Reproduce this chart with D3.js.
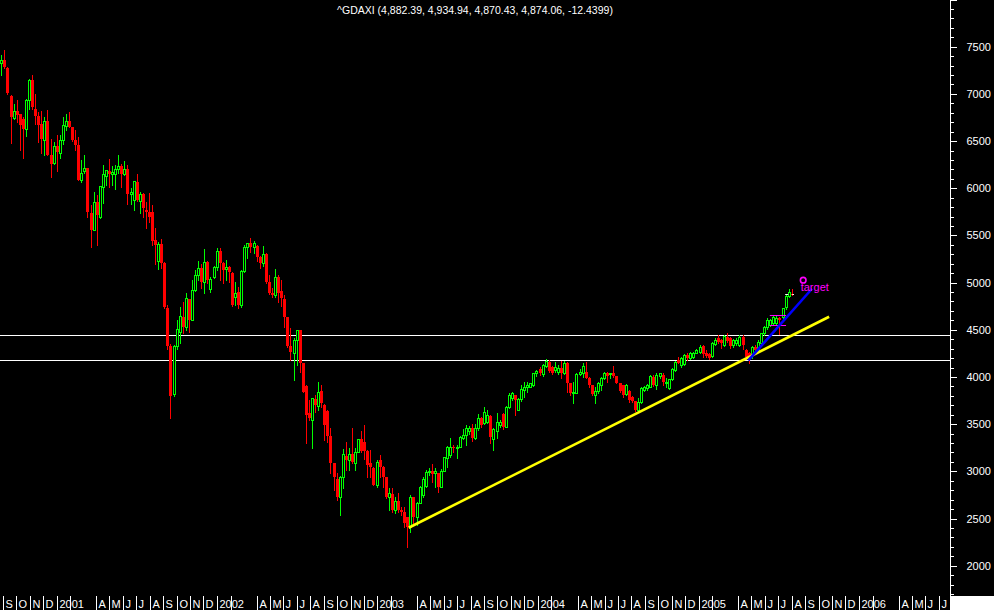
<!DOCTYPE html>
<html>
<head>
<meta charset="utf-8">
<script src="https://cdn.jsdelivr.net/npm/d3@7"></script>
<style>
html,body{margin:0;padding:0;background:#000;}
svg{display:block;font-family:"Liberation Sans",Arial,sans-serif;}
</style>
</head>
<body>
<svg id="chart" width="994" height="610"></svg>
<script>
// ---------------- DATA ----------------
const symbol = "^GDAXI";
const firstWeek = "2000-08-28";       // week of the first candle (weekly bars)
const lastChange = -12.4399;
// weekly [open, high, low, close]
const ohlc2000 = [
 [7329,7410,7198,7364],[7364,7470,7269,7287],[7269,7287,6997,7011],[6976,6986,6481,6757],
 [6746,6898,6739,6817],[6817,6933,6704,6775],[6785,6790,6404,6669],[6739,6760,6316,6633],
 [6633,6945,6552,6940],[6940,7163,6845,7145],[7152,7198,6845,6863],[6845,6997,6686,6764],
 [6764,6810,6492,6669],[6686,6820,6369,6527],[6510,6750,6351,6711],[6711,6827,6351,6351],
 [6351,6520,6122,6262],[6270,6488,6262,6446]
];
const ohlc2001 = [
 [6446,6563,6185,6386],[6375,6563,6316,6510],[6510,6750,6474,6669],[6658,6785,6616,6711],
 [6711,6810,6644,6644],[6644,6650,6505,6510],[6510,6616,6404,6457],[6457,6545,6086,6086],
 [6086,6298,6068,6164],[6185,6351,6157,6213],[6213,6213,5698,5750],[5740,5821,5373,5556],
 [5556,5962,5556,5849],[5849,5927,5397,5715],[5698,6026,5680,6026],[6015,6245,5846,6146],
 [6128,6192,6033,6192],[6181,6305,6015,6150],[6150,6234,6033,6174],[6146,6245,5987,6199],
 [6199,6351,6157,6234],[6234,6262,6015,6146],[6146,6291,6139,6202],[6202,6245,5838,5934],
 [5934,5998,5838,5962],[5874,6075,5768,6075],[6068,6150,5863,5874],[5863,5962,5740,5938],
 [5938,5945,5698,5786],[5768,5856,5574,5750],[5750,5945,5645,5697],[5750,5821,5397,5443],
 [5450,5584,5196,5397],[5232,5433,5140,5408],[5408,5457,5150,5210],[5210,5215,4734,4744],
 [4734,4762,4300,4328],[4328,4350,3561,3798],[3816,4340,3800,4328],[4328,4603,4300,4504],
 [4479,4744,4356,4645],[4631,4797,4462,4532],[4532,4885,4497,4832],[4822,4830,4479,4603],
 [4603,5027,4600,4921],[4921,5133,4915,5080],[5080,5231,5027,5157],[5157,5196,4938,5009],
 [5009,5352,4893,5214],[5214,5231,4999,5027],[4928,5060,4900,5034],[5055,5175,5050,5168]
];
const ohlc2002 = [
 [5168,5362,5133,5337],[5337,5362,5027,5210],[5210,5220,4991,5133],[5140,5238,5027,5168],
 [5168,5180,5009,5115],[5104,5110,4751,4762],[4850,5009,4762,4885],[4903,4956,4726,4762],
 [4762,5133,4744,5125],[5125,5397,5115,5380],[5373,5422,5256,5415],[5415,5478,5327,5373],
 [5373,5440,5316,5415],[5387,5395,5231,5274],[5274,5280,5150,5203],[5203,5387,5175,5302],
 [5302,5310,5000,5009],[5009,5080,4878,4892],[4892,4940,4850,4870],[4867,5140,4850,5055],
 [5055,5080,4797,4885],[4913,5027,4751,4832],[4822,4867,4532,4631],[4631,4640,4320,4330],
 [4330,4514,4179,4260],[4249,4408,3967,4391],[4391,4497,4126,4497],[4497,4500,4055,4144],
 [4144,4150,3843,3843],[3903,3910,3296,3596],[3614,3755,3543,3561],[3543,3780,3243,3773],
 [3763,3808,3631,3702],[3695,3942,3649,3836],[3850,3914,3685,3720],[3702,3710,3332,3490],
 [3639,3649,3314,3374],[3374,3455,2978,3084],[3084,3090,2802,2936],[2915,2978,2696,2731],
 [2724,2950,2537,2943],[2943,3236,2819,3180],[3165,3310,3014,3120],[3120,3243,3014,3180],
 [3180,3459,3091,3102],[3091,3243,3014,3208],[3208,3345,3200,3338],[3338,3427,3200,3218],
 [3310,3490,3127,3218],[3218,3230,2943,3067],[3091,3226,2936,3049],[3038,3045,2850,2855]
];
const ohlc2003 = [
 [2855,3120,2837,3102],[3120,3173,2943,3042],[3049,3060,2837,2936],[2936,2940,2713,2731],
 [2724,2819,2590,2766],[2759,2819,2572,2590],[2590,2731,2555,2689],[2689,2766,2572,2590],
 [2590,2620,2540,2572],[2572,2625,2413,2456],[2512,2520,2201,2413],[2413,2749,2360,2724],
 [2724,2730,2449,2519],[2519,2680,2431,2668],[2668,2844,2660,2837],[2749,2943,2731,2915],
 [2848,3014,2837,2996],[2996,3040,2960,3007],[3007,3077,2890,2971],[2978,3031,2837,3007],
 [2978,2985,2784,2837],[2837,3021,2830,3007],[3007,3155,3000,3148],[3137,3268,3049,3254],
 [3173,3349,3155,3254],[3254,3280,3200,3243],[3243,3278,3137,3261],[3261,3374,3255,3367],
 [3349,3444,3340,3384],[3384,3490,3278,3455],[3430,3480,3400,3455],[3455,3501,3324,3349],
 [3349,3501,3338,3455],[3455,3607,3437,3561],[3561,3575,3470,3490],[3508,3685,3500,3632],
 [3526,3649,3508,3596],[3585,3596,3296,3367],[3338,3460,3226,3444],[3430,3614,3349,3526],
 [3490,3540,3470,3526],[3607,3615,3445,3473],[3473,3692,3465,3685],[3685,3833,3670,3808],
 [3773,3843,3755,3826],[3808,3812,3597,3755],[3650,3773,3645,3762],[3762,3914,3748,3868],
 [3861,3950,3791,3897],[3890,3950,3844,3914],[3897,3940,3890,3932],[3914,4045,3905,4038]
];
const ohlc2004 = [
 [4038,4070,4010,4060],[4080,4101,4020,4038],[4031,4137,4010,4126],[4115,4186,4105,4172],
 [4161,4179,4055,4066],[4108,4115,4030,4038],[4073,4161,4055,4108],[4055,4130,4030,4091],
 [4091,4172,3985,4038],[4038,4172,4031,4151],[4151,4161,3844,3932],[3932,3940,3808,3826],
 [3826,3950,3720,3843],[3833,4038,3825,4027],[4027,4080,4020,4048],[4038,4144,4003,4115],
 [4055,4161,3985,3985],[3992,4000,3897,3914],[3914,3920,3808,3819],[3808,3897,3727,3854],
 [3854,3950,3826,3932],[3914,3996,3861,3985],[3985,4055,3980,4038],[4038,4055,3950,4010],
 [4031,4045,3985,4038],[4038,4115,4003,4010],[4010,4015,3932,3932],[3932,3940,3843,3854],
 [3914,3920,3791,3808],[3819,3925,3808,3914],[3854,3860,3740,3755],[3790,3800,3735,3748],
 [3745,3750,3642,3650],[3650,3773,3642,3738],[3738,3890,3727,3879],[3861,3900,3855,3890],
 [3879,3925,3861,3914],[3897,4020,3890,4010],[4003,4020,3904,3914],[3914,4038,3868,4020],
 [4010,4045,3985,4038],[4020,4038,3914,3950],[3939,3985,3897,3950],[3879,3980,3875,3975],
 [3975,4091,3970,4080],[4073,4172,4065,4161],[4179,4214,4144,4151],[4126,4210,4110,4197],
 [4137,4243,4126,4232],[4232,4250,4179,4197],[4197,4267,4190,4250],[4214,4265,4205,4257]
];
const ohlc2005 = [
 [4257,4292,4250,4285],[4267,4338,4257,4320],[4327,4340,4207,4243],[4257,4285,4207,4222],
 [4243,4250,4186,4197],[4225,4373,4214,4356],[4348,4410,4340,4397],[4408,4443,4355,4373],
 [4390,4400,4302,4355],[4338,4443,4327,4433],[4426,4461,4373,4383],[4408,4420,4302,4327],
 [4338,4400,4320,4391],[4360,4410,4340,4390],[4338,4440,4330,4426],[4426,4450,4300,4340],
 [4285,4300,4190,4207],[4250,4260,4150,4210],[4242,4330,4200,4320],[4320,4340,4260,4285],
 [4285,4390,4270,4373],[4355,4470,4340,4461],[4461,4545,4450,4532],[4525,4620,4510,4602],
 [4550,4615,4540,4602],[4567,4650,4555,4638],[4570,4645,4550,4630],[4630,4640,4460,4600],
 [4638,4735,4625,4726],[4737,4870,4725,4857],[4857,4935,4850,4902],
 [4882.39,4934.94,4870.43,4874.06]
];
// horizontal support / resistance levels
const levels = [4440, 4175];
// trend lines: [date, value] endpoints
const yellowTrend = [["2003-03-13", 2402], ["2005-10-25", 4638]];
const blueTrend   = [["2005-04-24", 4176], ["2005-09-16", 4935]];
// magenta range marks
const magentaMarks = [["2005-06-12","2005-07-19",4655],["2005-06-12","2005-07-19",4549]];
// target annotation
const target = {date:"2005-08-27", value:5026, label:"target"};
// last-price ticks
const lastTicks = [["2005-07-17","2005-07-24",4874],["2005-08-02","2005-08-06",4874]];
// axis labels
const monthLetters = ["J","F","M","A","M","J","J","A","S","O","N","D"];
const yLabels = [2000,2500,3000,3500,4000,4500,5000,5500,6000,6500,7000,7500];

// ---------------- CHART ----------------
const W = 994, H = 610, axisX = 950, axisRowTop = 596;
const parse = d3.utcParse("%Y-%m-%d");
const svg = d3.select("#chart");
svg.append("rect").attr("width",W).attr("height",H).attr("fill","#000");

const x = d3.scaleUtc().domain([Date.UTC(2001,0,1), Date.UTC(2006,0,1)]).range([56.7, 859]);
const y = d3.scaleLinear().domain([2000, 7500]).range([565.7, 46.7]);

const all = [].concat(ohlc2000, ohlc2001, ohlc2002, ohlc2003, ohlc2004, ohlc2005);
const start = parse(firstWeek);
const bars = all.map((d,i)=>({date:d3.utcDay.offset(start, 7*i), o:d[0], h:d[1], l:d[2], c:d[3]}));

const plot = svg.append("g");
plot.append("defs").append("clipPath").attr("id","clip")
  .append("rect").attr("x",0).attr("y",0).attr("width",axisX).attr("height",axisRowTop-2);

// horizontal levels
plot.selectAll("line.level").data(levels).join("line")
  .attr("x1",0).attr("x2",axisX)
  .attr("y1",d=>Math.round(y(d))+0.5).attr("y2",d=>Math.round(y(d))+0.5)
  .attr("stroke","#fff").attr("stroke-width",1).attr("shape-rendering","crispEdges");

// candles
const cg = plot.append("g").attr("clip-path","url(#clip)").attr("shape-rendering","crispEdges");
bars.forEach(b=>{
  const bx = Math.round(x(b.date)) - 1;
  const up = b.c >= b.o;
  const col = up ? "#00ff00" : "#ff0000";
  const t = Math.round(y(Math.max(b.o,b.c))), bt = Math.round(y(Math.min(b.o,b.c)));
  cg.append("line").attr("x1",bx+1.5).attr("x2",bx+1.5)
    .attr("y1",Math.round(y(b.h))).attr("y2",Math.round(y(b.l))+1)
    .attr("stroke",col).attr("stroke-width",1);
  if (up) {
    cg.append("rect").attr("x",bx+0.5).attr("y",t+0.5).attr("width",2).attr("height",Math.max(0,bt-t))
      .attr("fill","#000").attr("stroke",col).attr("stroke-width",1);
  } else {
    cg.append("rect").attr("x",bx).attr("y",t).attr("width",3).attr("height",Math.max(1,bt-t))
      .attr("fill",col);
  }
});

// magenta marks
plot.selectAll("line.mag").data(magentaMarks).join("line")
  .attr("x1",d=>x(parse(d[0]))).attr("x2",d=>x(parse(d[1])))
  .attr("y1",d=>Math.round(y(d[2]))+0.5).attr("y2",d=>Math.round(y(d[2]))+0.5)
  .attr("stroke","#ff00ff").attr("stroke-width",1);

// last price ticks
plot.selectAll("line.lt").data(lastTicks).join("line")
  .attr("x1",d=>x(parse(d[0]))).attr("x2",d=>x(parse(d[1])))
  .attr("y1",d=>Math.round(y(d[2]))+0.5).attr("y2",d=>Math.round(y(d[2]))+0.5)
  .attr("stroke","#fff").attr("stroke-width",1);

// trend lines
const line = d3.line().x(d=>x(parse(d[0]))).y(d=>y(d[1]));
plot.append("path").attr("d",line(yellowTrend)).attr("stroke","#ffff00").attr("stroke-width",2.6).attr("fill","none");
plot.append("path").attr("d",line(blueTrend)).attr("stroke","#0000ff").attr("stroke-width",2.6).attr("fill","none");

// target
plot.append("circle").attr("cx",x(parse(target.date))).attr("cy",y(target.value)).attr("r",2.8)
  .attr("fill","none").attr("stroke","#ff00ff").attr("stroke-width",1.6);
plot.append("text").attr("x",x(parse(target.date))-2.5).attr("y",y(target.value)+10.5)
  .attr("fill","#ff00ff").attr("font-size",11).text(target.label);

// title
const f2 = d3.format(",.2f");
const last = bars[bars.length-1];
svg.append("text").attr("x",475).attr("y",13.5).attr("text-anchor","middle")
  .attr("fill","#fff").attr("font-size",10.5)
  .text(`${symbol} (${f2(last.o)}, ${f2(last.h)}, ${f2(last.l)}, ${f2(last.c)}, ${lastChange})`);

// y axis (right)
const ya = svg.append("g").attr("shape-rendering","crispEdges");
ya.append("line").attr("x1",axisX+0.5).attr("x2",axisX+0.5).attr("y1",0).attr("y2",axisRowTop)
  .attr("stroke","#fff");
d3.range(1700, 8001, 100).forEach(v=>{
  const yy = Math.round(y(v))+0.5;
  if (yy < 0 || yy > axisRowTop) return;
  const major = v % 500 === 0;
  ya.append("line").attr("x1",axisX).attr("x2",axisX+(major?7:4)).attr("y1",yy).attr("y2",yy).attr("stroke","#fff");
});
svg.append("g").selectAll("text").data(yLabels).join("text")
  .attr("x",966.5).attr("y",d=>y(d)+4).attr("fill","#fff").attr("font-size",11).text(d=>d);

// x axis row
svg.append("rect").attr("x",axisX).attr("y",axisRowTop).attr("width",W-axisX).attr("height",H-axisRowTop).attr("fill","#fff");
const xa = svg.append("g");
const months = d3.utcMonth.range(Date.UTC(2000,8,1), Date.UTC(2006,7,1));
months.forEach(m=>{
  const mx = Math.round(x(m));
  if (mx >= axisX) return;
  const mo = m.getUTCMonth();
  if (mo !== 2) {
    xa.append("line").attr("x1",mx+0.5).attr("x2",mx+0.5).attr("y1",axisRowTop).attr("y2",H)
      .attr("stroke","#fff").attr("shape-rendering","crispEdges");
  }
  let lab = null;
  if (mo === 0) lab = String(m.getUTCFullYear());
  else if (mo > 2) lab = monthLetters[mo];
  if (lab) xa.append("text").attr("x",mx+2.5).attr("y",608).attr("fill","#fff").attr("font-size",11).text(lab);
});
</script>
</body>
</html>
